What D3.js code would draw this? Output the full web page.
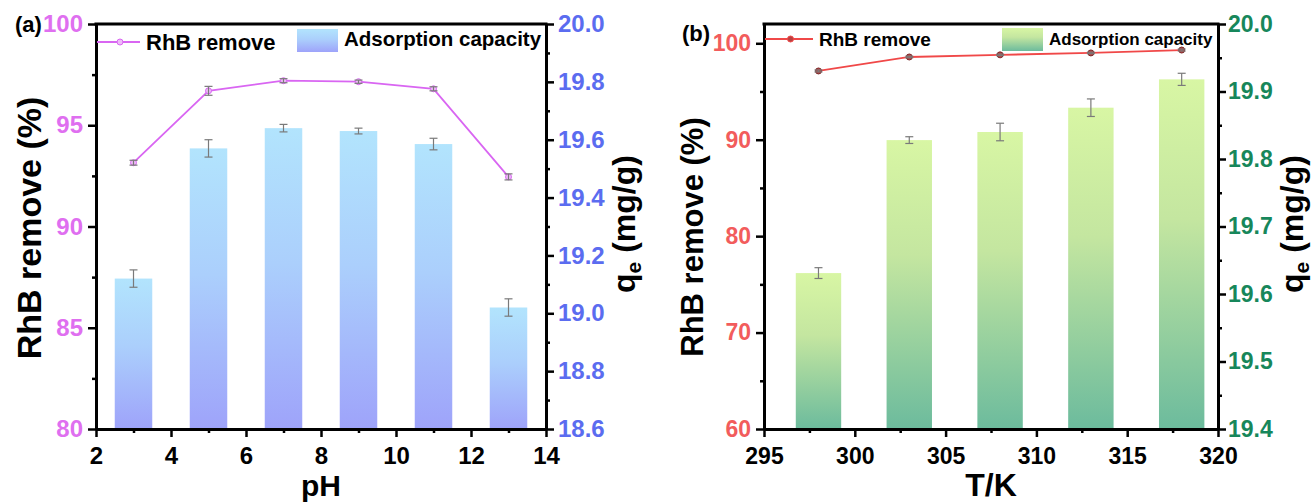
<!DOCTYPE html>
<html>
<head>
<meta charset="utf-8">
<script src="https://cdn.jsdelivr.net/npm/d3@7"></script>
<style>
  body { margin: 0; background: #fff; }
  text { font-family: "Liberation Sans", Arial, sans-serif; font-weight: bold; }
</style>
</head>
<body>
<div id="container"></div>
<script>
// Hard Code values ---------- ---------- ----------
let canvasW = 1316, canvasH = 504;

// Data ---------- ---------- ----------
let phVals = [3, 5, 7, 9, 11, 13];
let phRemoval = [93.15, 96.7, 97.2, 97.15, 96.8, 92.45];
let phRemovalErr = [0.12, 0.22, 0.1, 0.08, 0.1, 0.15];
let phCapacity = [19.12, 19.57, 19.64, 19.63, 19.585, 19.02];
let phCapacityErr = [0.03, 0.03, 0.013, 0.01, 0.02, 0.03];

let tempVals = [298, 303, 308, 313, 318];
let tempRemoval = [97.13, 98.58, 98.8, 99.0, 99.3];
let tempRemovalErr = [0.1, 0.08, 0.08, 0.08, 0.1];
let tempCapacity = [19.631, 19.828, 19.84, 19.876, 19.918];
let tempCapacityErr = [0.008, 0.005, 0.013, 0.013, 0.009];

let phTicks = [2, 4, 6, 8, 10, 12, 14];
let phRemovalTicks = [80, 85, 90, 95, 100];
let phCapacityTicks = [18.6, 18.8, 19.0, 19.2, 19.4, 19.6, 19.8, 20.0];
let tempTicks = [295, 300, 305, 310, 315, 320];
let tempRemovalTicks = [60, 70, 80, 90, 100];
let tempCapacityTicks = [19.4, 19.5, 19.6, 19.7, 19.8, 19.9, 20.0];

//Initialize ---------- ---------- ----------
let svg = d3.select("#container").append("svg").attr("width", canvasW).attr("height", canvasH);
let defs = svg.append("defs");

function gradient(id, stops) {
    let g = defs.append("linearGradient").attr("id", id)
        .attr("x1", 0).attr("y1", 0).attr("x2", 0).attr("y2", 1);
    stops.forEach(s => g.append("stop").attr("offset", s[0]).attr("stop-color", s[1]));
}
gradient("gradA", [[0, "#b2e4fd"], [0.45, "#abcffc"], [1, "#9ea3fa"]]);
gradient("gradB", [[0, "#d8f6a4"], [0.4, "#c4e6a0"], [1, "#6cbb9d"]]);

// Panel ---------- ---------- ----------
function panel(cfg)
{
    let g = svg.append("g");
    let x = d3.scaleLinear().domain(cfg.xDomain).range([cfg.left, cfg.right]);
    let yL = d3.scaleLinear().domain(cfg.yLDomain).range([cfg.bottom, cfg.top]);
    let yR = d3.scaleLinear().domain(cfg.yRDomain).range([cfg.bottom, cfg.top]);

    // Bars
    g.selectAll(".bar").data(cfg.xs).enter().append("rect")
        .attr("x", d => x(d - cfg.barW / 2))
        .attr("width", x(cfg.xDomain[0] + cfg.barW) - x(cfg.xDomain[0]))
        .attr("y", (d, i) => yR(cfg.cap[i]))
        .attr("height", (d, i) => cfg.bottom - yR(cfg.cap[i]))
        .attr("fill", "url(#" + cfg.grad + ")");

    // Error bars
    function errBars(vals, errs, sc) {
        let eb = g.append("g").attr("stroke", "#7a7a7a").attr("stroke-width", 1.2);
        cfg.xs.forEach((d, i) => {
            let y1 = sc(vals[i] - errs[i]), y2 = sc(vals[i] + errs[i]), cx = x(d);
            eb.append("line").attr("x1", cx).attr("x2", cx).attr("y1", y1).attr("y2", y2);
            eb.append("line").attr("x1", cx - 4).attr("x2", cx + 4).attr("y1", y1).attr("y2", y1);
            eb.append("line").attr("x1", cx - 4).attr("x2", cx + 4).attr("y1", y2).attr("y2", y2);
        });
    }
    errBars(cfg.cap, cfg.capErr, yR);

    // Line
    g.append("path").datum(cfg.xs)
        .attr("d", d3.line().x(d => x(d)).y((d, i) => yL(cfg.rem[i])))
        .attr("fill", "none").attr("stroke", cfg.lineColor).attr("stroke-width", 1.8);
    g.selectAll(".pt").data(cfg.xs).enter().append("circle")
        .attr("cx", d => x(d)).attr("cy", (d, i) => yL(cfg.rem[i])).attr("r", 3)
        .attr("fill", cfg.markerFill).attr("stroke", cfg.markerStroke).attr("stroke-width", 1);
    errBars(cfg.rem, cfg.remErr, yL);

    // Axes
    let axisG = g.append("g");
    function ax(gen, scale, ticks, minor, tx, ty, color, fs, pad) {
        let a = axisG.append("g").attr("transform", "translate(" + tx + "," + ty + ")")
            .call(gen(scale).tickValues(ticks).tickSize(8).tickSizeOuter(0).tickPadding(pad).tickFormat(cfg.fmt(ticks)));
        a.select(".domain").attr("stroke-width", 3);
        a.selectAll(".tick line").attr("stroke-width", 2.5);
        a.selectAll("text").attr("fill", color).attr("font-size", fs).attr("font-family", "Liberation Sans, Arial").attr("font-weight", "bold");
        let m = axisG.append("g").attr("transform", "translate(" + tx + "," + ty + ")")
            .call(gen(scale).tickValues(minor).tickSize(4).tickSizeOuter(0).tickFormat(""));
        m.select(".domain").remove();
        m.selectAll(".tick line").attr("stroke-width", 2.5);
    }
    ax(d3.axisBottom, x, cfg.xTicks, cfg.xMinor, 0, cfg.bottom, "#000", cfg.fs, cfg.xPad);
    ax(d3.axisLeft, yL, cfg.yLTicks, cfg.yLMinor, cfg.left, 0, cfg.yLColor, cfg.fs, 5);
    ax(d3.axisRight, yR, cfg.yRTicks, cfg.yRMinor, cfg.right, 0, cfg.yRColor, cfg.fs, cfg.rPad);
    axisG.append("line").attr("x1", cfg.left - 1.5).attr("x2", cfg.right + 1.5)
        .attr("y1", cfg.top).attr("y2", cfg.top).attr("stroke", "#000").attr("stroke-width", 3);

    // Titles
    g.append("text").attr("x", (cfg.left + cfg.right) / 2).attr("y", cfg.xTitleY)
        .attr("text-anchor", "middle").attr("font-size", cfg.xTitleFs).text(cfg.xTitle);
    g.append("text").attr("transform", "translate(" + cfg.lTitleX + "," + cfg.lTitleY + ") rotate(-90)")
        .attr("text-anchor", "middle").attr("font-size", cfg.lTitleFs).text("RhB remove (%)");
    let rt = g.append("text").attr("transform", "translate(" + cfg.rTitleX + ",224) rotate(-90)")
        .attr("text-anchor", "middle").attr("font-size", 32);
    rt.append("tspan").text("q");
    rt.append("tspan").attr("font-size", 21).attr("dy", 6).text("e");
    rt.append("tspan").attr("dy", -6).text(" (mg/g)");
    g.append("text").attr("x", cfg.labelX).attr("y", cfg.labelY).attr("font-size", 22).text(cfg.label);

    // Legend
    let lg = g.append("g");
    lg.append("line").attr("x1", cfg.left + 1).attr("x2", cfg.left + cfg.legLine).attr("y1", cfg.legY).attr("y2", cfg.legY)
        .attr("stroke", cfg.lineColor).attr("stroke-width", 1.8);
    lg.append("circle").attr("cx", cfg.left + cfg.legLine / 2 + 2).attr("cy", cfg.legY).attr("r", 3)
        .attr("fill", cfg.markerFill).attr("stroke", cfg.lineColor);
    lg.append("text").attr("x", cfg.left + cfg.legLine + 6).attr("y", cfg.legY + cfg.legFs1 * 0.36)
        .attr("font-size", cfg.legFs1).text("RhB remove");
    lg.append("rect").attr("x", cfg.swX).attr("y", cfg.swY).attr("width", 41).attr("height", 23)
        .attr("fill", "url(#" + cfg.grad + ")");
    lg.append("text").attr("x", cfg.swX + 47).attr("y", cfg.swY + 17)
        .attr("font-size", cfg.legFs2).text("Adsorption capacity");
}

let fmtA = t => (d => d3.format(t[0] % 1 ? ".1f" : "d")(d));

panel({
    xs: phVals, rem: phRemoval, remErr: phRemovalErr, cap: phCapacity, capErr: phCapacityErr,
    left: 96, right: 546, top: 24, bottom: 429,
    xDomain: [2, 14], yLDomain: [80, 100], yRDomain: [18.6, 20.0],
    xTicks: phTicks, xMinor: [3, 5, 7, 9, 11, 13],
    yLTicks: phRemovalTicks, yLMinor: [82.5, 87.5, 92.5, 97.5],
    yRTicks: phCapacityTicks, yRMinor: [18.7, 18.9, 19.1, 19.3, 19.5, 19.7, 19.9],
    barW: 1, grad: "gradA", fmt: fmtA, fs: 24, xPad: 10, rPad: 4,
    lineColor: "#d966f2", markerFill: "#eebcf8", markerStroke: "#d966f2",
    yLColor: "#df6ff0", yRColor: "#5b6cf0",
    xTitle: "pH", xTitleY: 496, xTitleFs: 30,
    lTitleX: 41, lTitleY: 228, lTitleFs: 34, rTitleX: 635,
    label: "(a)", labelX: 15, labelY: 32,
    legY: 42, legLine: 44, legFs1: 22, swX: 297, swY: 29, legFs2: 20.5
});

panel({
    xs: tempVals, rem: tempRemoval, remErr: tempRemovalErr, cap: tempCapacity, capErr: tempCapacityErr,
    left: 764, right: 1218, top: 24, bottom: 429,
    xDomain: [295, 320], yLDomain: [60, 102], yRDomain: [19.4, 20.0],
    xTicks: tempTicks, xMinor: [297.5, 302.5, 307.5, 312.5, 317.5],
    yLTicks: tempRemovalTicks, yLMinor: [65, 75, 85, 95],
    yRTicks: tempCapacityTicks, yRMinor: [19.45, 19.55, 19.65, 19.75, 19.85, 19.95],
    barW: 2.5, grad: "gradB", fmt: fmtA, fs: 23, xPad: 11, rPad: 2,
    lineColor: "#f04848", markerFill: "#b84040", markerStroke: "#7a2a2a",
    yLColor: "#f25c5c", yRColor: "#17875b",
    xTitle: "T/K", xTitleY: 496, xTitleFs: 32,
    lTitleX: 703, lTitleY: 237, lTitleFs: 31, rTitleX: 1303,
    label: "(b)", labelX: 682, labelY: 41,
    legY: 39, legLine: 49, legFs1: 19, swX: 1002, swY: 28, legFs2: 17
});
</script>
</body>
</html>
